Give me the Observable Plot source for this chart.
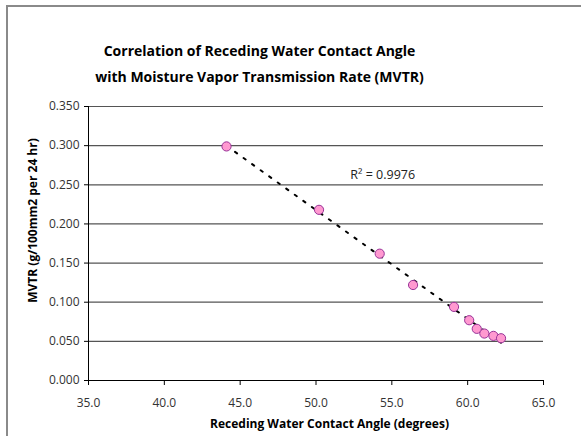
<!DOCTYPE html>
<html>
<head>
<meta charset="utf-8">
<script src="https://cdn.jsdelivr.net/npm/d3@7"></script>
<script src="https://cdn.jsdelivr.net/npm/@observablehq/plot@0.6"></script>
<style>
  html, body { margin: 0; padding: 0; background: #fff; }
  #wrap { position: relative; width: 581px; height: 436px; overflow: hidden; }
  #border { position: absolute; left: 6px; top: 5px; width: 600px; height: 460px;
            border-left: 2px solid #8a8a8a; border-top: 2px solid #8a8a8a; pointer-events: none; }
</style>
</head>
<body>
<div id="wrap"><div id="border"></div></div>
<script>
const angle = [44.1, 50.2, 54.2, 56.4, 59.1, 60.1, 60.6, 61.1, 61.7, 62.2];
const mvtr  = [0.299, 0.218, 0.162, 0.122, 0.094, 0.077, 0.066, 0.060, 0.057, 0.054];
const xTicks = [35, 40, 45, 50, 55, 60, 65];
const yTicks = [0, 0.05, 0.10, 0.15, 0.20, 0.25, 0.30, 0.35];
const titleLines = ["Correlation of Receding Water Contact Angle", "with Moisture Vapor Transmission Rate (MVTR)"];
const xTitle = "Receding Water Contact Angle (degrees)";
const yTitle = "MVTR (g/100mm2 per 24 hr)";
const r2Label = "R² = 0.9976";

const data = angle.map((a, i) => ({x: a, y: mvtr[i]}));
const font = "'Open Sans', 'Noto Sans', sans-serif";

const chart = Plot.plot({
  width: 581,
  height: 436,
  marginLeft: 88,
  marginRight: 38,
  marginTop: 106,
  marginBottom: 56,
  style: {fontFamily: font, fontSize: "11px", color: "#222", background: "transparent"},
  x: {domain: [35, 65], label: null},
  y: {domain: [0, 0.35], label: null},
  marks: [
    Plot.ruleY(yTicks.slice(1), {stroke: "#555", strokeWidth: 1.2}),
    Plot.axisX({ticks: xTicks, tickFormat: d3.format(".1f"), tickSize: 5, tickPadding: 13, fontSize: 12, stroke: "#000", fill: "#333"}),
    Plot.axisY({ticks: yTicks, tickFormat: d3.format(".3f"), tickSize: 4, tickPadding: 5, fontSize: 12, stroke: "#000", fill: "#333"}),
    Plot.ruleX([35], {stroke: "#000"}),
    Plot.ruleY([0], {stroke: "#000"}),
    Plot.linearRegressionY(data, {x: "x", y: "y", ci: 0, stroke: "#000", strokeWidth: 2, strokeDasharray: "2.5,8"}),
    Plot.dot(data, {x: "x", y: "y", r: 4.6, fill: "#ff99d0", stroke: "#993399", strokeWidth: 1}),
    Plot.text([r2Label], {x: 54.4, y: 0.262, text: d => d, fontSize: 12.5, fill: "#222", textAnchor: "middle"}),
    Plot.text([titleLines[0]], {frameAnchor: "top-left", dx: 171, dy: -60, text: d => d, fontSize: 14, fontWeight: "bold", fill: "#000", textAnchor: "middle"}),
    Plot.text([titleLines[1]], {frameAnchor: "top-left", dx: 171, dy: -34, text: d => d, fontSize: 14, fontWeight: "bold", fill: "#000", textAnchor: "middle"}),
    Plot.text([xTitle], {frameAnchor: "bottom-left", dx: 241, dy: 47, text: d => d, fontSize: 12, fontWeight: "bold", fill: "#000", textAnchor: "middle"}),
    Plot.text([yTitle], {frameAnchor: "top-left", dx: -60, dy: 114, rotate: -90, text: d => d, fontSize: 12, fontWeight: "bold", fill: "#000", textAnchor: "middle"})
  ]
});
document.getElementById("wrap").appendChild(chart);
chart.style.position = "absolute";
chart.style.left = "0";
chart.style.top = "0";
</script>
</body>
</html>
